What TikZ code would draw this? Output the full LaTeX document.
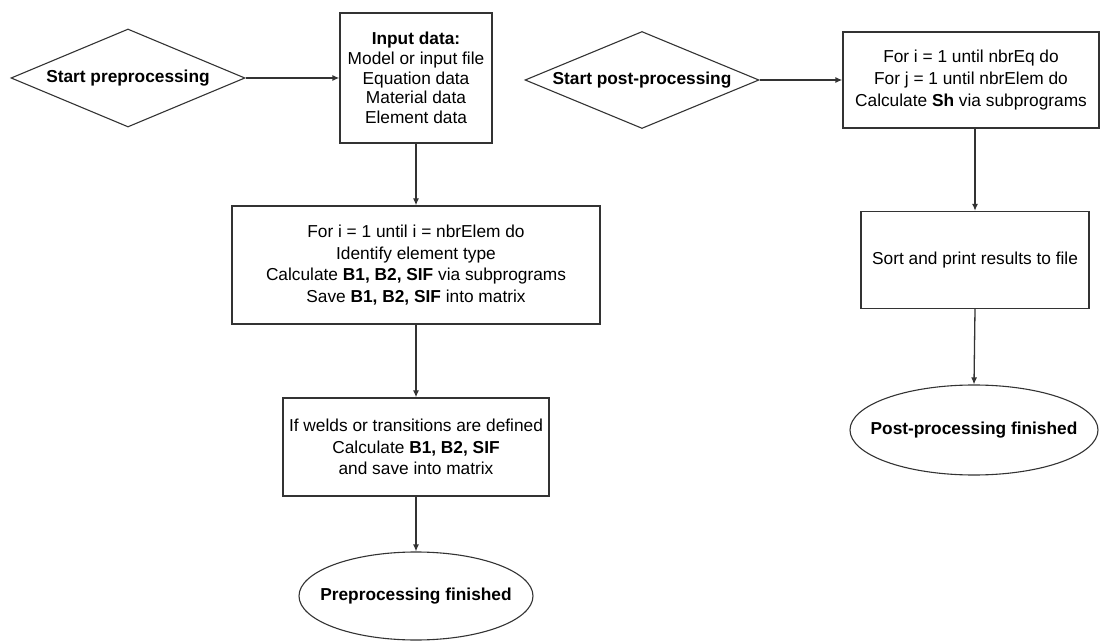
\documentclass[tikz,border=0pt]{standalone}
\usepackage{fontspec}
\setmainfont{Liberation Sans}
\usetikzlibrary{shapes.geometric,arrows.meta}

\definecolor{edge}{HTML}{333333}

\tikzset{
  txt/.style={font=\fontsize{17.3}{21.7}\selectfont, text=black, align=center, inner sep=0pt},
  procbox/.style={txt, draw=edge, line width=1.3pt, rectangle},
  startdiamond/.style={txt, draw=edge, line width=1.1pt, diamond, font=\bfseries\fontsize{17.3}{21.7}\selectfont},
  endellipse/.style={txt, draw=edge, line width=1.1pt, ellipse, font=\bfseries\fontsize{17.3}{21.7}\selectfont},
  flow/.style={draw=edge, line width=1.3pt, -{Latex[length=7pt,width=6pt]}}
}

\begin{document}
\begin{tikzpicture}[x=1pt,y=-1pt]
  \useasboundingbox (0,0) rectangle (1101,644);

  % preprocessing column
  \node[startdiamond, minimum width=234pt, minimum height=98pt] (sp) at (128,78)
    {\makebox[0pt]{Start preprocessing}};
  \node[procbox, minimum width=152pt, minimum height=130pt,
        font=\fontsize{17.3}{19.8}\selectfont] (inp) at (416,78)
    {\textbf{Input data:}\\Model or input file\\Equation data\\Material data\\Element data};
  \node[procbox, minimum width=368pt, minimum height=118pt] (loop) at (416,265)
    {For i = 1 until i = nbrElem do\\Identify element type\\
     Calculate \textbf{B1, B2, SIF} via subprograms\\Save \textbf{B1, B2, SIF} into matrix};
  \node[procbox, minimum width=266pt, minimum height=98pt] (weld) at (416,447)
    {If welds or transitions are defined\\Calculate \textbf{B1, B2, SIF}\\and save into matrix};
  \node[endellipse, minimum width=234pt, minimum height=88pt] (pf) at (416,596)
    {\makebox[0pt]{Preprocessing finished}};

  % post-processing column
  \node[startdiamond, minimum width=234pt, minimum height=97pt] (spp) at (642,80)
    {\makebox[0pt]{Start post-processing}};
  \node[procbox, minimum width=256pt, minimum height=96pt] (sh) at (971,80)
    {For i = 1 until nbrEq do\\For j = 1 until nbrElem do\\Calculate \textbf{Sh} via subprograms};
  \node[procbox, minimum width=228pt, minimum height=97pt] (sort) at (975,260)
    {Sort and print results to file};
  \node[endellipse, minimum width=248pt, minimum height=90pt] (ppf) at (974,430)
    {\makebox[0pt]{Post-processing finished}};

  % connectors
  \draw[flow] (sp.east) -- (inp.west);
  \draw[flow] (inp.south) -- (loop.north);
  \draw[flow] (loop.south) -- (weld.north);
  \draw[flow] (weld.south) -- (pf.north);

  \draw[flow] (spp.east) -- (sh.west);
  \draw[flow] (sh.south -| sort.north) -- (sort.north);
  \draw[flow] (sort.south) -- (ppf.north);
\end{tikzpicture}
\end{document}
